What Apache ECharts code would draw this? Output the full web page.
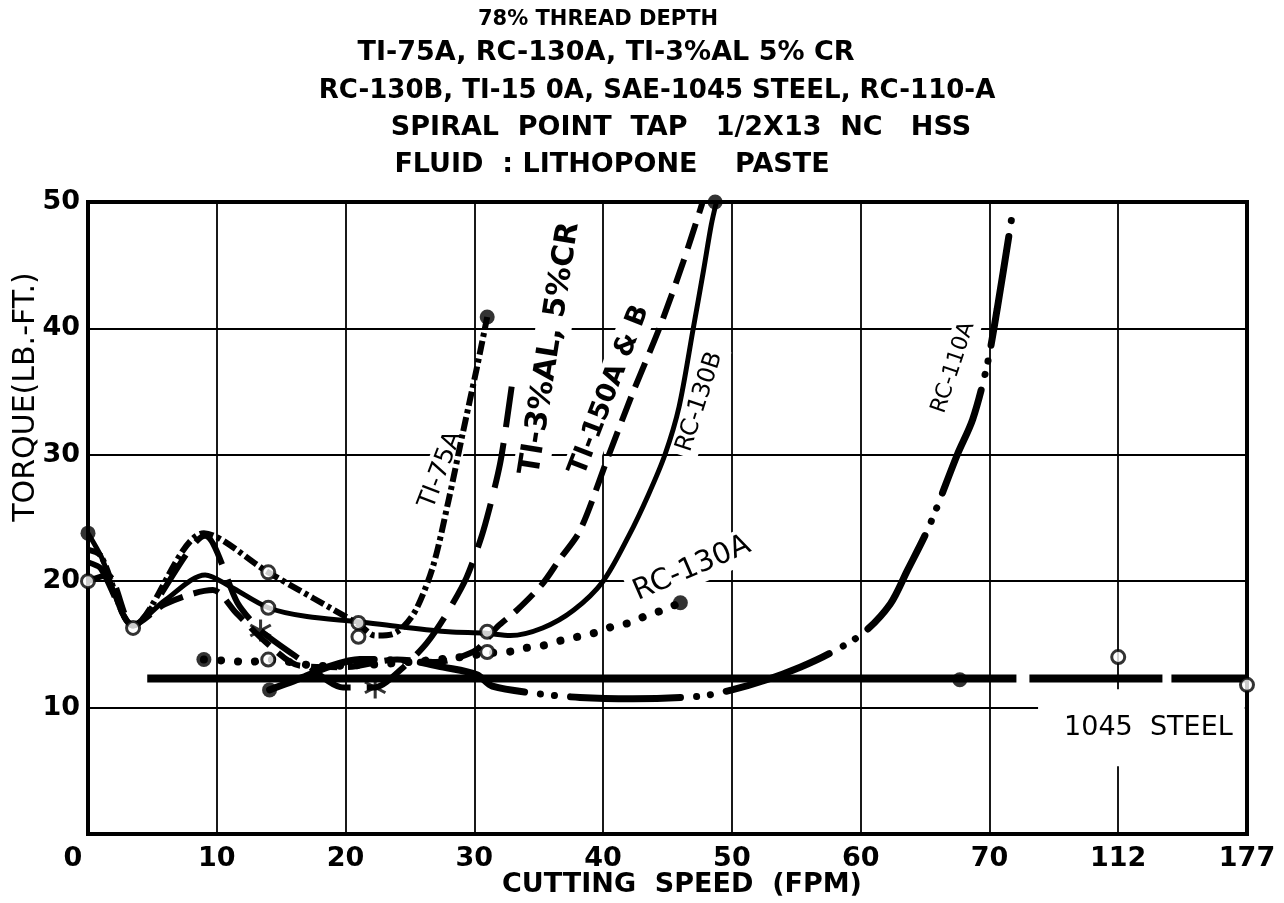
<!DOCTYPE html>
<html><head><meta charset="utf-8">
<script src="https://cdn.jsdelivr.net/npm/echarts@6/dist/echarts.min.js"></script>
<style>html,body{margin:0;padding:0;background:#fff}#c{width:1284px;height:903px}</style>
</head><body><div id="c"></div>
<script>
// ---- axis ticks ----
const xTicks = [0, 10, 20, 30, 40, 50, 60, 70, 112, 177];
const xTickLabels = ['0', '10', '20', '30', '40', '50', '60', '70', '112', '177'];
const yTickLabels = ['', '10', '20', '30', '40', '50'];

// ---- series (cutting speed FPM, torque lb-ft) ----
const ti75aX = [0, 1, 3.5, 9, 14, 21, 22.3, 23.6, 24.5, 25.5, 26.8, 28, 29.1, 30.2, 31];
const ti75aY = [22.5, 22, 16.5, 23.8, 20.7, 16.6, 15.7, 15.8, 16.4, 17.8, 21.2, 26.4, 31.7, 36.9, 40.9];

const ti3alX = [0, 1, 3.5, 9.1, 11.6, 13.4, 16.5, 19.8, 22.3, 24.5, 26.3, 27.9, 29.4, 30.7, 32, 32.9];
const ti3alY = [21.5, 21, 16.5, 23.6, 18.3, 16.1, 13.8, 11.6, 11.6, 13.2, 15.1, 17.5, 20.3, 24, 29.3, 35.4];

const ti150X = [0, 1.5, 3.5, 6, 9.7, 11.5, 14, 16.5, 20, 24, 27, 28.6, 30.2, 31.8, 33.3, 35.3, 36.6, 38.2, 40.3, 42.3, 44.4, 46.2, 47.7];
const ti150Y = [20, 20.5, 16.5, 18.2, 19.3, 17.5, 15, 13.3, 13.2, 13.8, 13.6, 13.9, 14.6, 16.4, 17.7, 19.8, 21.7, 24, 29.6, 34.9, 40.1, 45.2, 49.9];

const rc130bX = [0, 1, 3.5, 6, 9.1, 11, 14, 17, 21, 24.2, 28, 30.8, 32.8, 35.3, 37.7, 40, 42, 43.5, 44.8, 45.9, 47, 47.8, 48.4, 48.8];
const rc130bY = [23.8, 22, 16.5, 18.5, 20.5, 19.6, 17.9, 17.2, 16.8, 16.4, 16, 15.9, 15.7, 16.3, 17.7, 20, 23.6, 26.8, 30, 33.8, 40, 44.6, 48.2, 50];

const rc130aX = [9, 11, 12.5, 14, 18, 22, 26, 29, 31, 32.6, 33.9, 35.3, 36.7, 38, 39.3, 40.7, 42, 43.2, 44.6, 46];
const rc130aY = [13.8, 13.7, 13.6, 13.8, 13.3, 13.4, 13.7, 14, 14.3, 14.4, 14.7, 14.9, 15.3, 15.6, 15.9, 16.4, 16.7, 17.2, 17.7, 18.3];

const rc110aX = [14.1, 16.7, 18.6, 21.1, 25, 27.6, 30.2, 31.4, 35, 38.2, 42.3, 47.5, 50, 52.7, 55.3, 57.6, 60.2, 62.3, 63.6, 65.3, 67.5, 68.7, 69.8, 72.5, 77.3];
const rc110aY = [11.4, 12.4, 13.2, 13.8, 13.7, 13.2, 12.6, 11.7, 11.1, 10.8, 10.7, 10.9, 11.4, 12.2, 13.2, 14.3, 15.9, 18.2, 20.8, 24.3, 30, 32.8, 37, 41.5, 48.8];

const steelSolidX = [4.6, 78.8];
const steelSolidY = [12.3, 12.3];
const steelDashX = [78.8, 177];
const steelDashY = [12.3, 12.3];

// ---- plotted points ----
const openX = [0, 3.5, 14, 14, 21, 21, 31, 31, 14, 112, 177];
const openY = [20, 16.3, 20.7, 17.9, 16.7, 15.6, 16, 14.4, 13.8, 14, 11.8];
const filledX = [0, 9, 14.1, 31, 46, 48.7, 67.7];
const filledY = [23.8, 13.8, 11.4, 40.9, 18.3, 50, 12.2];
const starX = [13.4, 22.3];
const starY = [16.1, 11.6];

// ---- curve labels ----
const labelTexts = ['TI-75A', 'TI-3%AL, 5%CR', 'TI-150A & B', 'RC-130B', 'RC-130A', 'RC-110A', '1045  STEEL'];
const labelX = [27.4, 35.9, 40.5, 47.5, 46.9, 67.2, 123.7];
const labelY = [28.8, 38.4, 35.1, 34.2, 21.0, 36.9, 8.4];
const labelAngle = [69, 81, 69, 72, 23.4, 71.5, 0];
const labelSize = [25, 30, 27, 24, 29, 22, 27];
const labelWeight = ['normal', 'bold', 'bold', 'normal', 'normal', 'normal', 'normal'];

const titleLines = ['78% THREAD DEPTH', 'TI-75A, RC-130A, TI-3%AL 5% CR', 'RC-130B, TI-15 0A, SAE-1045 STEEL, RC-110-A', 'SPIRAL  POINT  TAP   1/2X13  NC   HSS', 'FLUID  : LITHOPONE    PASTE'];

function toIdx(v) {
  for (let i = 0; i < xTicks.length - 1; i++) {
    if (v <= xTicks[i + 1]) return i + (v - xTicks[i]) / (xTicks[i + 1] - xTicks[i]);
  }
  return xTicks.length - 1;
}
function pts(xs, ys) { return xs.map((x, i) => [toIdx(x), ys[i]]); }

const FONT = '"DejaVu Sans"';
const chart = echarts.init(document.getElementById('c'), null, { renderer: 'canvas' });

function lineSeries(name, xs, ys, style, smooth) {
  return {
    type: 'line', name: name, data: pts(xs, ys), showSymbol: false, symbol: 'none',
    smooth: smooth, z: 3,
    lineStyle: Object.assign({ color: '#000' }, style)
  };
}

const star = 'path://M-1.3,-10L1.3,-10L1.3,10L-1.3,10Z M8.06,-6.04L9.36,-3.79L-8.06,6.04L-9.36,3.79Z M-9.36,-3.79L-8.06,-6.04L9.36,3.79L8.06,6.04Z';

const option = {
  animation: false,
  backgroundColor: '#fff',
  grid: { left: 88, right: 37, top: 202, bottom: 69, show: true, borderColor: '#000', borderWidth: 4, backgroundColor: 'transparent' },
  xAxis: {
    type: 'value', min: 0, max: 9, interval: 1,
    axisLine: { show: false }, axisTick: { show: false },
    splitLine: { show: true, lineStyle: { color: '#000', width: 1.8 } },
    axisLabel: {
      margin: 11, color: '#000', fontFamily: FONT, fontSize: 27, fontWeight: 'bold',
      formatter: function (v) { const i = Math.round(v); return i === 0 ? '{z|0}' : xTickLabels[i]; },
      rich: { z: { padding: [0, 30, 0, 0], fontFamily: FONT, fontSize: 27, fontWeight: 'bold', color: '#000' } }
    }
  },
  yAxis: {
    type: 'value', min: 0, max: 50, interval: 10,
    axisLine: { show: false }, axisTick: { show: false },
    splitLine: { show: true, lineStyle: { color: '#000', width: 1.8 } },
    axisLabel: {
      margin: 8, color: '#000', fontFamily: FONT, fontSize: 27, fontWeight: 'bold',
      formatter: function (v) { return yTickLabels[Math.round(v / 10)]; }
    }
  },
  series: [
    lineSeries('SAE-1045 STEEL', steelSolidX, steelSolidY, { width: 8, type: 'solid' }, false),
    lineSeries('SAE-1045 STEEL (cont.)', steelDashX, steelDashY, { width: 8, type: [0, 13, 133, 9, 300] }, false),
    lineSeries('RC-110A', rc110aX, rc110aY, { width: 7, type: [110, 16, 0.1, 14, 0.1, 16], cap: 'round' }, 0.3),
    lineSeries('RC-130B', rc130bX, rc130bY, { width: 5, type: 'solid' }, 0.3),
    lineSeries('TI-150A & B', ti150X, ti150Y, { width: 6, type: [26, 11] }, 0.3),
    lineSeries('TI-3%AL 5%CR', ti3alX, ti3alY, { width: 6, type: [46, 16] }, 0.25),
    lineSeries('TI-75A', ti75aX, ti75aY, { width: 6, type: [14, 4, 4, 4] }, 0.3),
    lineSeries('RC-130A', rc130aX, rc130aY, { width: 8, type: [0.1, 17], cap: 'round' }, 0.3),
    {
      type: 'scatter', name: 'open points', data: pts(openX, openY), symbol: 'circle', symbolSize: 13, z: 5,
      itemStyle: { color: '#fff', borderColor: '#000', borderWidth: 3 }
    },
    {
      type: 'scatter', name: 'filled points', data: pts(filledX, filledY), symbol: 'circle', symbolSize: 15, z: 5,
      itemStyle: { color: '#000' }
    },
    {
      type: 'scatter', name: 'star points', data: pts(starX, starY), symbol: star, symbolSize: 22, z: 5,
      itemStyle: { color: '#000' }
    }
  ]
};
chart.setOption(option);

const graphics = [];
labelTexts.forEach(function (t, i) {
  const p = chart.convertToPixel({ gridIndex: 0 }, [toIdx(labelX[i]), labelY[i]]);
  const isSteel = i === labelTexts.length - 1;
  graphics.push({
    type: 'text', x: p[0], y: p[1], rotation: labelAngle[i] * Math.PI / 180, z: 1,
    style: {
      text: t, font: labelWeight[i] + ' ' + labelSize[i] + 'px ' + FONT, fill: '#000',
      align: 'center', verticalAlign: 'middle', backgroundColor: '#fff',
      padding: isSteel ? [30, 12, 20, 26] : [3, 5]
    }
  });
});
const titleCx = [598, 606, 657, 681, 612];
const titleCy = [20, 53, 91, 128, 165];
const titleFont = ['bold 21px ' + FONT, 'bold 27px ' + FONT, 'bold 26px ' + FONT, 'bold 27px ' + FONT, 'bold 27px ' + FONT];
titleLines.forEach(function (t, i) {
  graphics.push({ type: 'text', x: titleCx[i], y: titleCy[i], z: 10,
    style: { text: t, font: titleFont[i], fill: '#000', align: 'center', verticalAlign: 'middle' } });
});
graphics.push({ type: 'text', x: 26, y: 397, rotation: Math.PI / 2, z: 10,
  style: { text: 'TORQUE(LB.-FT.)', font: '30px ' + FONT, fill: '#000', align: 'center', verticalAlign: 'middle' } });
graphics.push({ type: 'text', x: 682, y: 885, z: 10,
  style: { text: 'CUTTING  SPEED  (FPM)', font: 'bold 27px ' + FONT, fill: '#000', align: 'center', verticalAlign: 'middle' } });
chart.setOption({ graphic: graphics });
</script>
</body></html>
